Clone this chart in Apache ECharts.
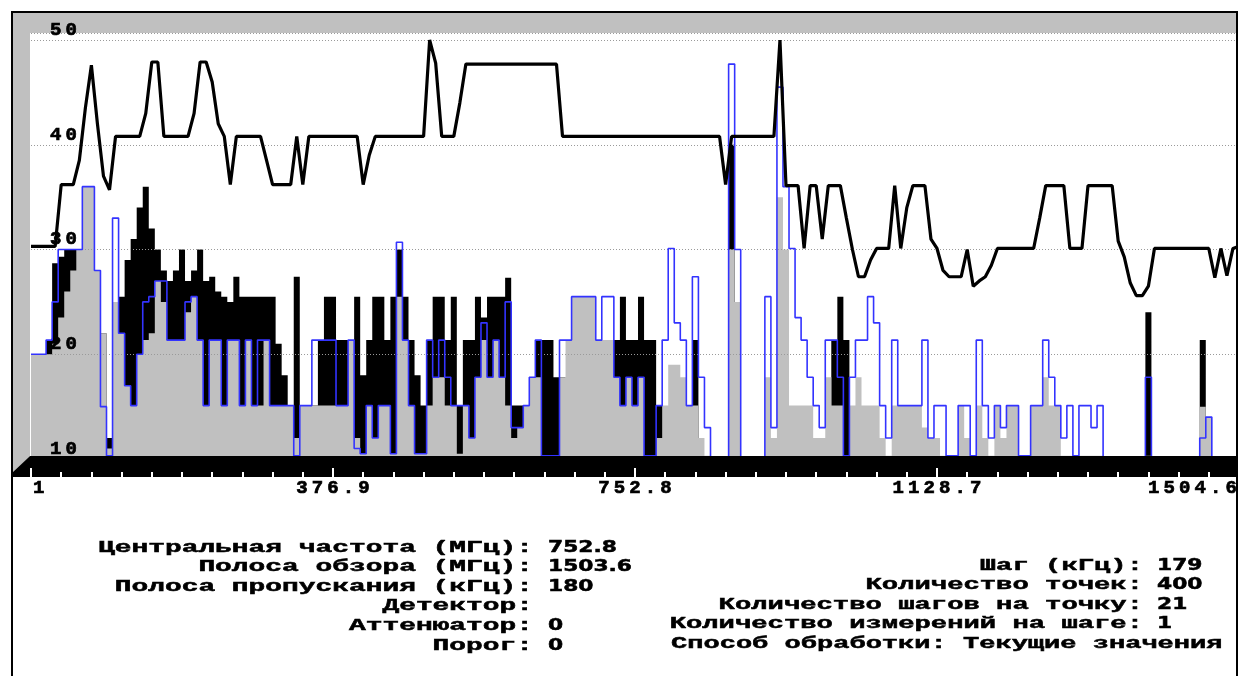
<!DOCTYPE html>
<html>
<head>
<meta charset="utf-8">
<script src="https://cdn.jsdelivr.net/npm/echarts@6/dist/echarts.min.js"></script>
<style>
  html, body { margin: 0; padding: 0; background: #fff; }
  #chart { width: 1239px; height: 676px; }
</style>
</head>
<body>
<div id="chart"></div>
<script>
// x axis: 1 .. 1504.6 MHz, drawn as offset from 1 MHz
const spanMHz = 1503.6
const tickLabels = ['1', '376.9', '752.8', '1128.7', '1504.6']

// max hold (thick black line), one value every 2nd sample
const maxHold = [
  30.3, 30.3, 30.3, 30.3, 30.3, 36.2, 36.2, 36.2, 38.5, 43.5,
  47.6, 42, 37, 35.7, 40.8, 40.8, 40.8, 40.8, 40.8, 43,
  47.9, 47.9, 40.8, 40.8, 40.8, 40.8, 40.8, 43, 47.9, 47.9,
  46, 42, 40.8, 36.2, 40.8, 40.8, 40.8, 40.8, 40.8, 38.5,
  36.2, 36.2, 36.2, 36.2, 40.8, 36.2, 40.8, 40.8, 40.8, 40.8,
  40.8, 40.8, 40.8, 40.8, 40.8, 36.2, 39, 40.8, 40.8, 40.8,
  40.8, 40.8, 40.8, 40.8, 40.8, 40.8, 50, 47.8, 40.8, 40.8,
  40.8, 44, 47.7, 47.7, 47.7, 47.7, 47.7, 47.7, 47.7, 47.7,
  47.7, 47.7, 47.7, 47.7, 47.7, 47.7, 47.7, 47.7, 40.8, 40.8,
  40.8, 40.8, 40.8, 40.8, 40.8, 40.8, 40.8, 40.8, 40.8, 40.8,
  40.8, 40.8, 40.8, 40.8, 40.8, 40.8, 40.8, 40.8, 40.8, 40.8,
  40.8, 40.8, 40.8, 40.8, 40.8, 36.2, 40.8, 40.8, 40.8, 40.8,
  40.8, 40.8, 40.8, 40.8, 50, 36.1, 36.1, 36.1, 30.1, 36.1,
  36.1, 31, 36.1, 36.1, 36.1, 33, 30, 27.4, 27.4, 29,
  30.1, 30.1, 30.1, 36.1, 30.1, 34, 36.1, 36.1, 36.1, 31,
  30.1, 28, 27.4, 27.4, 27.4, 30, 26.5, 27, 27.4, 28.5,
  30.1, 30.1, 30.1, 30.1, 30.1, 30.1, 30.1, 33, 36.1, 36.1,
  36.1, 36.1, 30.1, 30.1, 30.1, 36.1, 36.1, 36.1, 36.1, 36.1,
  30.8, 29.3, 26.8, 25.6, 25.6, 26.5, 30.1, 30.1, 30.1, 30.1,
  30.1, 30.1, 30.1, 30.1, 30.1, 30.1, 27.3, 30.1, 27.5, 30.1,
  30.3
]

// black filled trace
const blackTrace = [
  15, 15, 15, 21.35, 28.7, 29.3, 30, 30, 30, 30,
  30, 27, 22, 12, 25, 25.5, 29, 31, 34, 36,
  32, 30, 28, 27, 28, 30, 27, 28, 30, 27,
  27.4, 26, 25.5, 25, 27.4, 25.5, 25.5, 25.5, 25.5, 25.5,
  25.5, 21, 18, 15.1, 27.4, 15.1, 15.1, 15.1, 21.35, 25.5,
  25.5, 21.35, 21.35, 21.35, 25.5, 18, 21.35, 25.5, 25.5, 21.35,
  25.5, 30, 25.5, 21.35, 18, 15.1, 21.35, 25.5, 25.5, 21.35,
  25.5, 15.1, 21.35, 21.35, 25.5, 23.5, 25.5, 25.5, 25.5, 27.3,
  15.1, 15.1, 15.1, 17.8, 21.35, 21.35, 21.35, 17.8, 17.8, 15,
  15, 15, 15, 15, 15, 15, 15, 21.35, 25.5, 21.35,
  21.35, 25.5, 21.35, 21.35, 15.1, 15, 15, 15, 15, 15,
  21.35, 10, 10, 10, 10, 10, 40, 10, 10, 10,
  10, 10, 10, 10, 10, 10, 10, 10, 10, 10,
  10, 10, 10, 21.35, 25.5, 21.35, 10, 10, 10, 10,
  10, 10, 10, 10, 10, 10, 10, 10, 10, 10,
  10, 10, 10, 10, 10, 10, 10, 10, 10, 10,
  10, 10, 10, 10, 10, 10, 10, 10, 10, 10,
  10, 10, 10, 10, 10, 10, 10, 10, 10, 10,
  10, 10, 10, 10, 10, 24, 10, 10, 10, 10,
  10, 10, 10, 10, 21.35, 10, 10, 10, 10, 10,
  10
]

// gray filled trace
const grayTrace = [
  20, 20, 20, 20, 21, 23.5, 26, 28, 30, 36,
  36, 28, 22, 11, 25, 22, 17, 15.1, 20, 21.35,
  22, 27, 25, 21.35, 21.35, 21.35, 24, 25.5, 21.35, 15.1,
  21.35, 21.35, 15.1, 21.35, 21.35, 15.1, 21.35, 15.1, 15.1, 21.35,
  15.1, 15.1, 15.1, 15.1, 12, 15.1, 15.1, 15.1, 15.1, 15.1,
  15.1, 15.1, 15.1, 21.35, 12, 10.5, 15.1, 12, 15.1, 15.1,
  10.5, 25.5, 21.35, 15.1, 10.5, 10.5, 15.1, 17.8, 17.8, 15.1,
  15.1, 10.5, 15.1, 12, 17.8, 21.35, 17.8, 21.35, 17.8, 15.1,
  12, 13, 15.1, 17.8, 17.8, 10.3, 10.3, 10.3, 17.8, 21.35,
  25.5, 25.5, 25.5, 25.5, 21.35, 21.35, 21.35, 17.8, 15.1, 17.8,
  15.1, 17.8, 10.3, 10.3, 12, 15.1, 19, 19, 17.8, 15.1,
  15.1, 12, 10.3, 10, 10, 10, 30, 25, 10, 10,
  10, 10, 17.8, 12, 35, 30, 15.1, 15.1, 15.1, 15.1,
  12, 12, 17.8, 15.1, 15.1, 10.3, 15.1, 17.8, 15.1, 15.1,
  15.1, 12, 10.3, 15.1, 15.1, 15.1, 15.1, 15.1, 13, 12,
  12, 10.3, 10.3, 10.3, 15.1, 12, 10.3, 15.1, 12, 10.3,
  15.1, 12, 15.1, 15.1, 10.3, 10.3, 15.1, 15.1, 17.8, 15.1,
  15.1, 10.3, 10.3, 10.3, 10.3, 10.3, 10.3, 10.3, 10, 10,
  10, 10, 10, 10, 10, 10.3, 10, 10, 10, 10,
  10, 10, 10, 10, 15, 14, 10, 10, 10, 10,
  10
]

// current trace (blue line)
const blueTrace = [
  20, 20, 20, 21.35, 25, 30, 30, 30, 30, 36,
  36, 28, 15, 10.3, 33, 22, 17, 15.1, 20, 25,
  25.5, 27, 27, 21.35, 21.35, 21.35, 25, 25.5, 21.35, 15.1,
  21.35, 21.35, 15.1, 21.35, 21.35, 15.1, 21.35, 15.1, 21.35, 21.35,
  15.1, 15.1, 15.1, 15.1, 10.3, 15.1, 15.1, 21.35, 21.35, 21.35,
  21.35, 15.1, 15.1, 21.35, 11, 10.5, 15.1, 12, 15.1, 15.1,
  10.5, 30.7, 21.35, 15.1, 10.5, 10.5, 21.35, 17.8, 21.35, 17.8,
  15.1, 15.1, 15.1, 12, 17.8, 23, 17.8, 21.35, 17.8, 25,
  13, 13, 15.1, 17.8, 21.35, 10.3, 10.3, 10.3, 21.35, 21.35,
  25.5, 25.5, 25.5, 25.5, 21.35, 25.5, 25.5, 17.8, 15.1, 17.8,
  15.1, 17.8, 10.3, 10.3, 15.1, 21.35, 30.1, 23, 21.35, 15.1,
  27.4, 17.8, 13, 10, 10, 10, 47.7, 30, 10, 10,
  10, 10, 25.5, 13, 45.5, 36, 30.1, 23.5, 21.35, 17.8,
  15.1, 13, 21.35, 21.35, 17.8, 10.3, 17.8, 21.35, 21.35, 25.5,
  23, 15.1, 12, 21.35, 15.1, 15.1, 15.1, 15.1, 21.35, 12,
  15.1, 15.1, 10.3, 10.3, 15.1, 15.1, 10.3, 21.35, 15.1, 12,
  15.1, 13, 15.1, 15.1, 10.3, 10.3, 15.1, 15.1, 21.35, 17.8,
  15.1, 12, 15.1, 10.3, 15.1, 15.1, 13, 15.1, 10, 10,
  10, 10, 10, 10, 10, 17.8, 10, 10, 10, 10,
  10, 10, 10, 10, 12, 14, 10, 10, 10, 10,
  10
]

// parameter block under the chart
const leftKeys = ['Центральная частота (МГц):', 'Полоса обзора (МГц):', 'Полоса пропускания (кГц):', 'Детектор:', 'Аттенюатор:', 'Порог:']
const leftVals = ['752.8', '1503.6', '180', '', '0', '0']
const rightKeys = ['Шаг (кГц):', 'Количество точек:', 'Количество шагов на точку:', 'Количество измерений на шаге:']
const rightVals = ['179', '400', '21', '1']
const methodLine = 'Способ обработки: Текущие значения'

const pointStep = spanMHz / (maxHold.length - 1)
const toPairs = arr => arr.map((v, i) => [i * pointStep, v])

const FONT = '"Liberation Mono", "DejaVu Sans Mono", monospace'
// wide pixel-like characters: one fixed box per character
const wide = s => s.split('').map(ch => '{c|' + ch + '}').join('')
const richChar = {
  c: {
    width: 15.5, align: 'center', fontFamily: FONT, fontWeight: 'bold', fontSize: 19,
    lineHeight: 14, color: '#000', textBorderColor: '#000', textBorderWidth: 0.7
  }
}

// keys in a wide monospace, numbers in a sans face (plain zeros)
const keyFont = 'bold 17px ' + FONT
const numFont = 'bold 16px "DejaVu Sans", sans-serif'
const infoText = (x, y, text, align, font, sx) => ({
  type: 'text', x: x, y: y, scaleX: sx, z: 10,
  style: {
    text: text, font: font, fill: '#000', stroke: '#000', lineWidth: 0.5,
    align: align, verticalAlign: 'middle'
  }
})

const graphics = [
  // gray frame bands
  { type: 'rect', z: 1, shape: { x: 13, y: 12, width: 1224, height: 21 }, style: { fill: '#c0c0c0' } },
  { type: 'polygon', z: 1, shape: { points: [[13, 33], [30, 33], [30, 456], [13, 472]] }, style: { fill: '#c0c0c0' } },
  // black floor
  { type: 'polygon', z: 7, shape: { points: [[30, 456], [1238, 456], [1238, 477], [13, 477], [13, 472]] }, style: { fill: '#000' } },
  { type: 'rect', z: 7, shape: { x: 1238, y: 0, width: 4, height: 676 }, style: { fill: '#fff' } },
  // outer border
  { type: 'polyline', z: 9, shape: { points: [[12, 676], [12, 12], [1237, 12], [1237, 676]] }, style: { stroke: '#000', lineWidth: 2, fill: null } }
]
const leftY = [548, 567, 587, 606, 626, 646]
const rightY = [566, 585, 605, 624]
leftKeys.forEach((k, i) => {
  graphics.push(infoText(533, leftY[i], k, 'right', keyFont, 1.64))
  if (leftVals[i]) graphics.push(infoText(548, leftY[i], leftVals[i], 'left', numFont, 1.36))
})
rightKeys.forEach((k, i) => {
  graphics.push(infoText(1143, rightY[i], k, 'right', keyFont, 1.6))
  graphics.push(infoText(1157, rightY[i], rightVals[i], 'left', numFont, 1.36))
})
graphics.push(infoText(671, 644, methodLine, 'left', keyFont, 1.59))

const chart = echarts.init(document.getElementById('chart'))
chart.setOption({
  animation: false,
  backgroundColor: '#fff',
  grid: { left: 31, top: 33, width: 1208, height: 426, outerBoundsMode: 'none' },
  xAxis: {
    type: 'value',
    min: 0,
    max: spanMHz,
    interval: spanMHz / 4,
    offset: 18,
    z: 8,
    axisLine: { show: false },
    axisTick: { show: true, inside: true, length: 9, lineStyle: { color: '#fff', width: 2 } },
    minorTick: { show: true, splitNumber: 10, length: 5, lineStyle: { color: '#fff', width: 2 } },
    splitLine: { show: false },
    axisLabel: {
      margin: 4,
      alignMinLabel: 'left',
      alignMaxLabel: 'right',
      formatter: v => wide(tickLabels[Math.round(v / (spanMHz / 4))]),
      rich: richChar
    }
  },
  yAxis: {
    type: 'value',
    min: 10,
    max: 50.67,
    interval: 10,
    z: 4,
    axisLine: { show: false },
    axisTick: { show: false },
    splitLine: { lineStyle: { color: '#9a9a9a', type: [1, 2], width: 1 } },
    axisLabel: {
      inside: true,
      margin: 17,
      verticalAlign: 'bottom',
      padding: [0, 0, 3, 0],
      showMaxLabel: false,
      formatter: v => (v % 10 === 0 ? wide(String(v)) : ''),
      rich: richChar
    }
  },
  graphic: graphics,
  series: [
    {
      name: 'black', type: 'line', step: 'middle', symbol: 'none', z: 2,
      data: toPairs(blackTrace),
      lineStyle: { width: 0 },
      areaStyle: { color: '#000', opacity: 1, origin: 'start' }
    },
    {
      name: 'gray', type: 'line', step: 'middle', symbol: 'none', z: 3,
      data: toPairs(grayTrace),
      lineStyle: { width: 0 },
      areaStyle: { color: '#c0c0c0', opacity: 1, origin: 'start' }
    },
    {
      name: 'current', type: 'line', step: 'middle', symbol: 'none', z: 5,
      data: toPairs(blueTrace),
      lineStyle: { color: '#3333ff', width: 1.6 }
    },
    {
      name: 'max', type: 'line', symbol: 'none', z: 6,
      data: toPairs(maxHold),
      lineStyle: { color: '#000', width: 3.2 }
    }
  ]
})
</script>
</body>
</html>
